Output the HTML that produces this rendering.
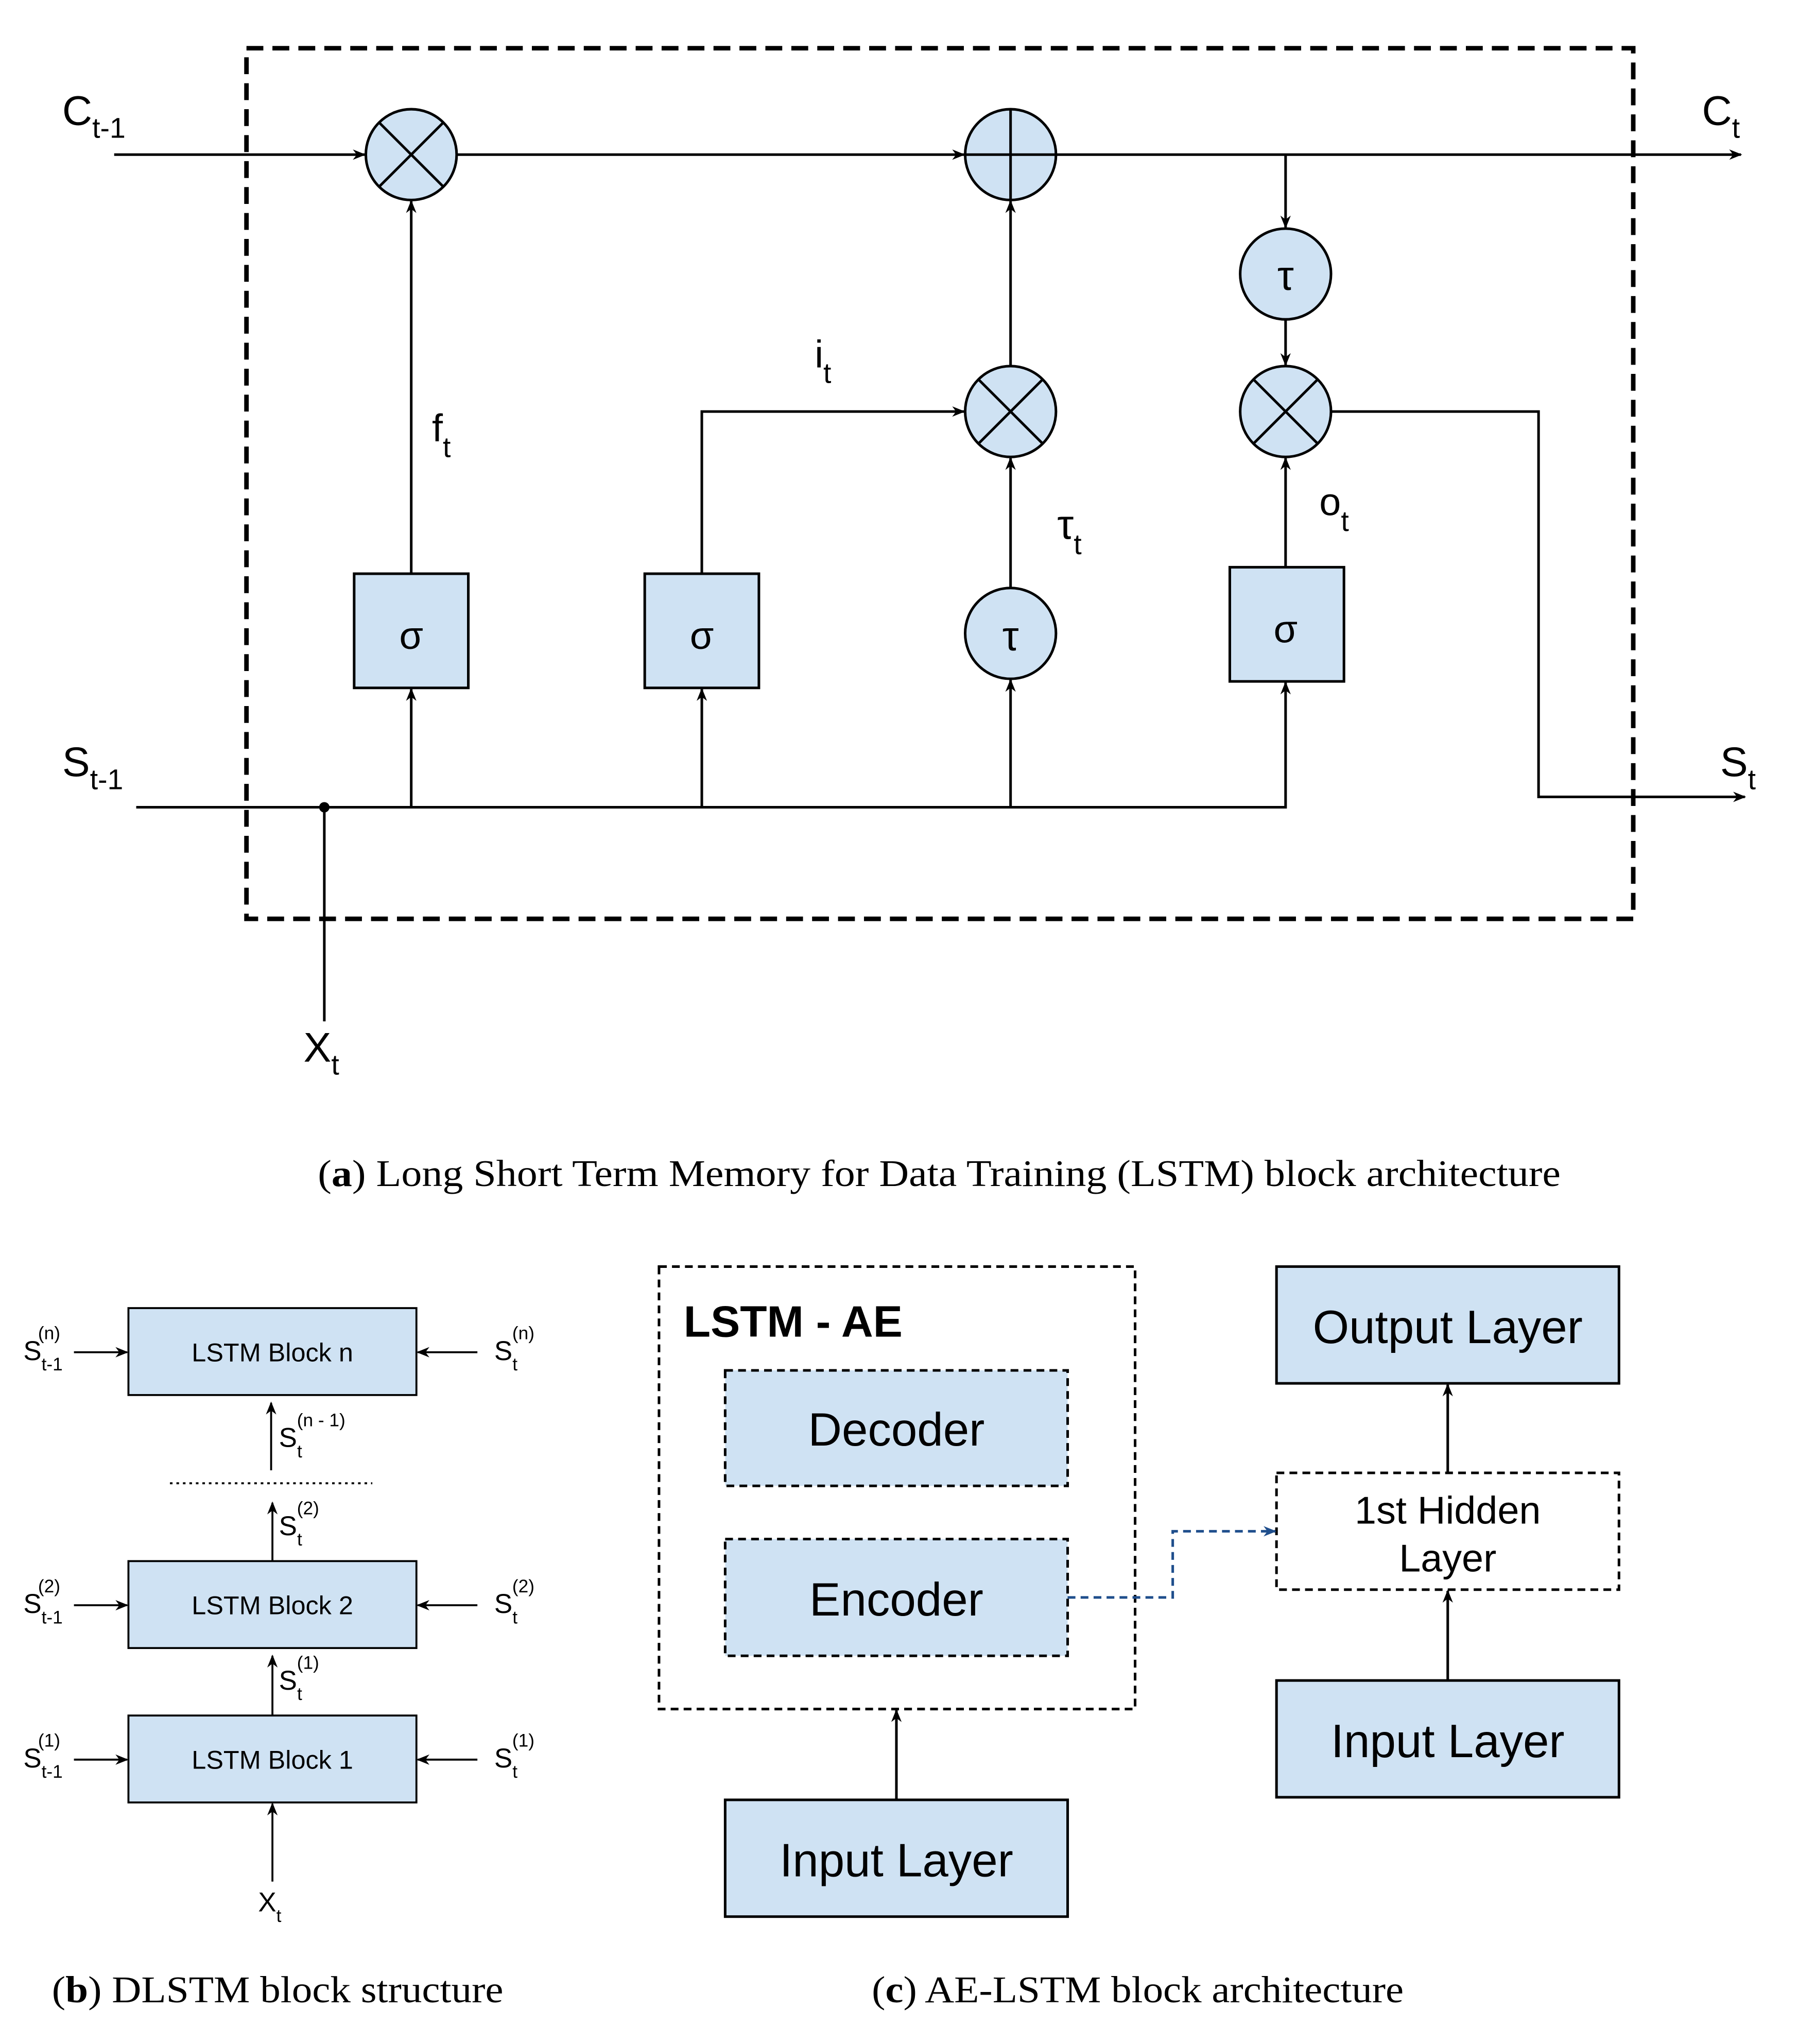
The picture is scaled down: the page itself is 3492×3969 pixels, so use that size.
<!DOCTYPE html>
<html><head><meta charset="utf-8"><style>
html,body{margin:0;padding:0;background:#fff;}
svg{display:block;}
text{font-family:"Liberation Sans",sans-serif;fill:#000;}
.ser{font-family:"Liberation Serif",serif;}
</style></head><body>
<svg width="3492" height="3969" viewBox="0 0 1386 1575" xmlns="http://www.w3.org/2000/svg">
<defs>
<marker id="a" markerWidth="10" markerHeight="8" refX="9" refY="4" orient="auto" markerUnits="userSpaceOnUse"><path d="M0,0 L10,4 L0,8 L3,4 Z" fill="#000"/></marker>
<marker id="b" markerWidth="10" markerHeight="8" refX="9" refY="4" orient="auto" markerUnits="userSpaceOnUse"><path d="M0,0 L10,4 L0,8 L3,4 Z" fill="#1f4e8c"/></marker>
</defs>
<g stroke="#000" stroke-width="2" fill="none">
<rect x="190" y="37" width="1069" height="671" stroke-width="3.5" stroke-dasharray="13,7"/>
<line x1="88" y1="119" x2="281" y2="119" marker-end="url(#a)"/>
<line x1="352" y1="119" x2="743" y2="119" marker-end="url(#a)"/>
<line x1="814" y1="119" x2="1342" y2="119" marker-end="url(#a)"/>
<line x1="991" y1="119" x2="991" y2="175" marker-end="url(#a)"/>
<line x1="991" y1="246" x2="991" y2="281" marker-end="url(#a)"/>
<polyline points="1026,317 1186,317 1186,614 1345,614" marker-end="url(#a)"/>
<line x1="317" y1="442" x2="317" y2="155" marker-end="url(#a)"/>
<polyline points="541,442 541,317 743,317" marker-end="url(#a)"/>
<line x1="779" y1="282" x2="779" y2="155" marker-end="url(#a)"/>
<line x1="779" y1="453" x2="779" y2="353" marker-end="url(#a)"/>
<line x1="991" y1="437" x2="991" y2="353" marker-end="url(#a)"/>
<polyline points="105,622 991,622 991,526" marker-end="url(#a)"/>
<line x1="317" y1="622" x2="317" y2="531" marker-end="url(#a)"/>
<line x1="541" y1="622" x2="541" y2="531" marker-end="url(#a)"/>
<line x1="779" y1="622" x2="779" y2="524" marker-end="url(#a)"/>
<line x1="250" y1="622" x2="250" y2="787"/>
</g>
<circle cx="250" cy="622" r="4" fill="#000"/>
<g stroke="#000" stroke-width="2" fill="#cfe2f3">
<circle cx="317" cy="119" r="35"/><circle cx="779" cy="119" r="35"/>
<circle cx="991" cy="211" r="35"/><circle cx="991" cy="317" r="35"/>
<circle cx="779" cy="317" r="35"/><circle cx="779" cy="488" r="35"/>
<rect x="273" y="442" width="88" height="88"/><rect x="497" y="442" width="88" height="88"/>
<rect x="948" y="437" width="88" height="88"/>
</g>
<g stroke="#000" stroke-width="2">
<line x1="292" y1="94" x2="342" y2="144"/><line x1="342" y1="94" x2="292" y2="144"/>
<line x1="779" y1="84" x2="779" y2="154"/><line x1="744" y1="119" x2="814" y2="119"/>
<line x1="754" y1="292" x2="804" y2="342"/><line x1="804" y1="292" x2="754" y2="342"/>
<line x1="966" y1="292" x2="1016" y2="342"/><line x1="1016" y1="292" x2="966" y2="342"/>
</g>
<g font-size="30" text-anchor="middle">
<text x="317" y="500">σ</text><text x="541" y="500">σ</text><text x="991" y="495">σ</text>
<text x="779" y="501" font-size="32">τ</text><text x="991" y="223" font-size="32">τ</text>
</g>
<g font-size="32">
<text x="48" y="96">C<tspan font-size="22" dy="10">t-1</tspan></text>
<text x="1312" y="96">C<tspan font-size="22" dy="10">t</tspan></text>
<text x="48" y="598">S<tspan font-size="22" dy="10">t-1</tspan></text>
<text x="1326" y="598">S<tspan font-size="22" dy="10">t</tspan></text>
<text x="234" y="818">X<tspan font-size="22" dy="10">t</tspan></text>
<text x="333" y="340" font-size="30">f<tspan font-size="22" dy="12">t</tspan></text>
<text x="628" y="283" font-size="30">i<tspan font-size="22" dy="12">t</tspan></text>
<text x="815" y="415" font-size="32">τ<tspan font-size="22" dy="12">t</tspan></text>
<text x="1017" y="397" font-size="30">o<tspan font-size="22" dy="12">t</tspan></text>
</g>
<text class="ser" x="245" y="914" font-size="29" textLength="958" lengthAdjust="spacingAndGlyphs">(<tspan font-weight="bold">a</tspan>) Long Short Term Memory for Data Training (LSTM) block architecture</text>

<!-- (b) -->
<g stroke="#000" stroke-width="1.5" fill="#cfe2f3">
<rect x="99" y="1008" width="222" height="67"/><rect x="99" y="1203" width="222" height="67"/><rect x="99" y="1322" width="222" height="67"/>
</g>
<g stroke="#000" stroke-width="1.5" fill="none">
<line x1="57" y1="1042" x2="98" y2="1042" marker-end="url(#a)"/>
<line x1="57" y1="1237" x2="98" y2="1237" marker-end="url(#a)"/>
<line x1="57" y1="1356" x2="98" y2="1356" marker-end="url(#a)"/>
<line x1="368" y1="1042" x2="322" y2="1042" marker-end="url(#a)"/>
<line x1="368" y1="1237" x2="322" y2="1237" marker-end="url(#a)"/>
<line x1="368" y1="1356" x2="322" y2="1356" marker-end="url(#a)"/>
<line x1="209" y1="1133" x2="209" y2="1081" marker-end="url(#a)"/>
<line x1="210" y1="1203" x2="210" y2="1158" marker-end="url(#a)"/>
<line x1="210" y1="1322" x2="210" y2="1276" marker-end="url(#a)"/>
<line x1="210" y1="1450" x2="210" y2="1390" marker-end="url(#a)"/>
<line x1="131" y1="1143" x2="287" y2="1143" stroke-dasharray="2,3"/>
</g>
<g font-size="20" text-anchor="middle">
<text x="210" y="1049">LSTM Block n</text><text x="210" y="1244">LSTM Block 2</text><text x="210" y="1363">LSTM Block 1</text>
</g>
<g font-size="21">
<text x="18" y="1048">S<tspan font-size="14" dy="8">t-1</tspan><tspan font-size="14" dx="-19" dy="-24">(n)</tspan></text>
<text x="18" y="1243">S<tspan font-size="14" dy="8">t-1</tspan><tspan font-size="14" dx="-19" dy="-24">(2)</tspan></text>
<text x="18" y="1362">S<tspan font-size="14" dy="8">t-1</tspan><tspan font-size="14" dx="-19" dy="-24">(1)</tspan></text>
<text x="381" y="1048">S<tspan font-size="14" dy="8">t</tspan><tspan font-size="14" dx="-4" dy="-24">(n)</tspan></text>
<text x="381" y="1243">S<tspan font-size="14" dy="8">t</tspan><tspan font-size="14" dx="-4" dy="-24">(2)</tspan></text>
<text x="381" y="1362">S<tspan font-size="14" dy="8">t</tspan><tspan font-size="14" dx="-4" dy="-24">(1)</tspan></text>
<text x="215" y="1115">S<tspan font-size="14" dy="8">t</tspan><tspan font-size="14" dx="-4" dy="-24">(n - 1)</tspan></text>
<text x="215" y="1183">S<tspan font-size="14" dy="8">t</tspan><tspan font-size="14" dx="-4" dy="-24">(2)</tspan></text>
<text x="215" y="1302">S<tspan font-size="14" dy="8">t</tspan><tspan font-size="14" dx="-4" dy="-24">(1)</tspan></text>
<text x="199" y="1473">X<tspan font-size="14" dy="8">t</tspan></text>
</g>
<text class="ser" x="40" y="1543" font-size="29" textLength="348" lengthAdjust="spacingAndGlyphs">(<tspan font-weight="bold">b</tspan>) DLSTM block structure</text>

<!-- (c) -->
<g stroke="#000" stroke-width="2">
<rect x="508" y="976" width="367" height="341" fill="none" stroke-dasharray="6,4"/>
<rect x="559" y="1056" width="264" height="89" fill="#cfe2f3" stroke-dasharray="6,4"/>
<rect x="559" y="1186" width="264" height="90" fill="#cfe2f3" stroke-dasharray="6,4"/>
<rect x="559" y="1387" width="264" height="90" fill="#cfe2f3"/>
<rect x="984" y="976" width="264" height="90" fill="#cfe2f3"/>
<rect x="984" y="1135" width="264" height="90" fill="#fff" stroke-dasharray="6,4"/>
<rect x="984" y="1295" width="264" height="90" fill="#cfe2f3"/>
<line x1="691" y1="1387" x2="691" y2="1318" marker-end="url(#a)"/>
<line x1="1116" y1="1295" x2="1116" y2="1226" marker-end="url(#a)"/>
<line x1="1116" y1="1135" x2="1116" y2="1067" marker-end="url(#a)"/>
</g>
<polyline points="823,1231 904,1231 904,1180 983,1180" fill="none" stroke="#1f4e8c" stroke-width="2" stroke-dasharray="6,4" marker-end="url(#b)"/>
<text x="527" y="1030" font-size="34" font-weight="bold">LSTM - AE</text>
<g font-size="36" text-anchor="middle">
<text x="691" y="1114">Decoder</text><text x="691" y="1245">Encoder</text><text x="691" y="1446">Input Layer</text>
<text x="1116" y="1035">Output Layer</text><text x="1116" y="1354">Input Layer</text>
<text x="1116" y="1174" font-size="30">1st Hidden</text><text x="1116" y="1211" font-size="30">Layer</text>
</g>
<text class="ser" x="672" y="1543" font-size="29" textLength="410" lengthAdjust="spacingAndGlyphs">(<tspan font-weight="bold">c</tspan>) AE-LSTM block architecture</text>
</svg>
</body></html>
